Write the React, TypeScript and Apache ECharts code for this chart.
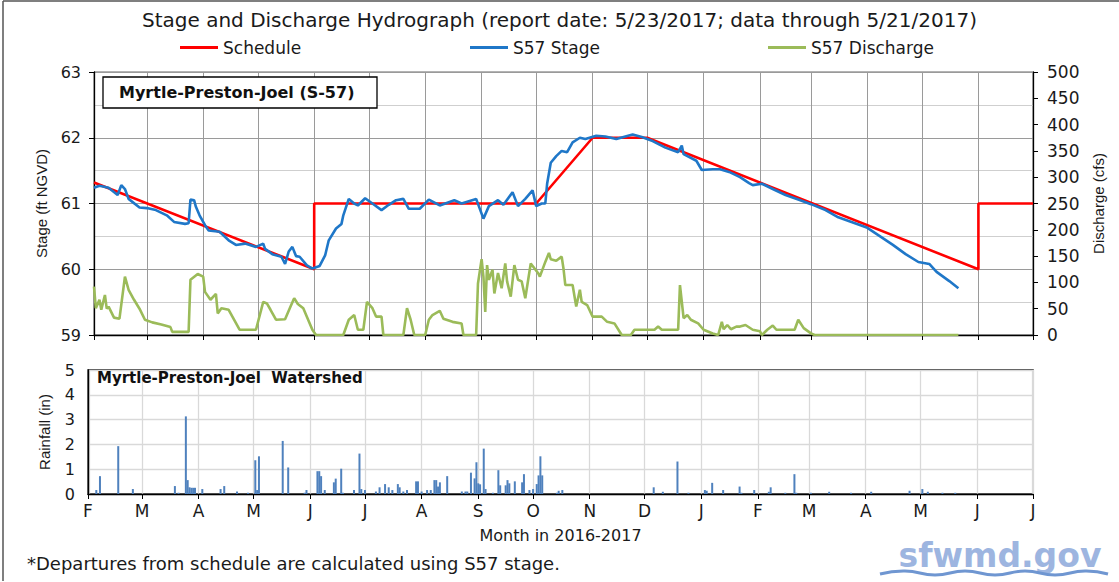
import React, { useEffect, useRef } from 'react';
import * as echarts from 'echarts';

const WIDE = '"DejaVu Sans", "Liberation Sans", sans-serif';
const ARIAL = '"Liberation Sans", Arial, sans-serif';

const chartTitle = 'Stage and Discharge Hydrograph (report date: 5/23/2017; data through 5/21/2017)';
const legendNames = ['Schedule', 'S57 Stage', 'S57 Discharge'];
const monthLetters = ['J', 'F', 'M', 'A', 'M', 'J', 'J', 'A', 'S', 'O', 'N', 'D'];
const axisStart = '2016-02-01';
const axisEnd = '2017-07-01';

const scheduleDates = ['2016-02-01', '2016-06-01', '2016-06-01', '2016-10-01', '2016-11-01', '2016-12-01', '2017-06-01', '2017-06-01', '2017-07-01'];
const scheduleStage = [61.32, 60.0, 61.0, 61.0, 62.0, 62.0, 60.0, 61.0, 61.0];

const stageDates = [
  '2016-02-01', '2016-02-04', '2016-02-09', '2016-02-14', '2016-02-16', '2016-02-18', '2016-02-20', '2016-02-26',
  '2016-03-01', '2016-03-06', '2016-03-12', '2016-03-16', '2016-03-22', '2016-03-24', '2016-03-25', '2016-03-27',
  '2016-03-28', '2016-03-30', '2016-04-02', '2016-04-04', '2016-04-10', '2016-04-15', '2016-04-19', '2016-04-24',
  '2016-04-30', '2016-05-04', '2016-05-05', '2016-05-09', '2016-05-14', '2016-05-16', '2016-05-18', '2016-05-20',
  '2016-05-22', '2016-05-24', '2016-05-28', '2016-05-31', '2016-06-04', '2016-06-07', '2016-06-09', '2016-06-13',
  '2016-06-16', '2016-06-17', '2016-06-20', '2016-06-23', '2016-06-25', '2016-06-29', '2016-07-03', '2016-07-08',
  '2016-07-12', '2016-07-16', '2016-07-20', '2016-07-23', '2016-07-29', '2016-08-03', '2016-08-09', '2016-08-17',
  '2016-08-21', '2016-08-29', '2016-09-02', '2016-09-05', '2016-09-10', '2016-09-13', '2016-09-18', '2016-09-21',
  '2016-09-25', '2016-09-29', '2016-10-01', '2016-10-04', '2016-10-06', '2016-10-07', '2016-10-09', '2016-10-12',
  '2016-10-15', '2016-10-18', '2016-10-21', '2016-10-25', '2016-10-28', '2016-11-03', '2016-11-08', '2016-11-14',
  '2016-11-19', '2016-11-23', '2016-11-28', '2016-12-04', '2016-12-11', '2016-12-18', '2016-12-20', '2016-12-21',
  '2016-12-28', '2016-12-31', '2017-01-06', '2017-01-10', '2017-01-15', '2017-01-21', '2017-01-26', '2017-01-28',
  '2017-02-02', '2017-02-08', '2017-02-15', '2017-02-22', '2017-03-01', '2017-03-09', '2017-03-16', '2017-03-24',
  '2017-04-01', '2017-04-08', '2017-04-15', '2017-04-22', '2017-04-29', '2017-05-05', '2017-05-09', '2017-05-16',
  '2017-05-21'
];
const stageValues = [
  61.24, 61.27, 61.24, 61.13, 61.28, 61.22, 61.07, 60.94,
  60.93, 60.90, 60.82, 60.72, 60.69, 60.70, 61.06, 61.05,
  60.95, 60.82, 60.67, 60.59, 60.57, 60.44, 60.37, 60.39,
  60.34, 60.39, 60.31, 60.23, 60.19, 60.08, 60.27, 60.34,
  60.20, 60.19, 60.06, 60.01, 60.05, 60.21, 60.44, 60.62,
  60.69, 60.82, 61.07, 61.00, 60.97, 61.08, 61.00, 60.90,
  60.98, 61.05, 61.07, 60.92, 60.92, 61.06, 60.97, 61.05,
  61.00, 61.07, 60.77, 60.96, 61.05, 60.98, 61.17, 60.96,
  61.07, 61.20, 60.96, 61.00, 61.00, 61.30, 61.62, 61.72,
  61.80, 61.78, 61.93, 62.00, 61.98, 62.03, 62.02, 61.98,
  62.02, 62.05, 62.01, 61.95, 61.85, 61.78, 61.88, 61.75,
  61.65, 61.51, 61.52, 61.52, 61.48, 61.40, 61.31, 61.28,
  61.30, 61.22, 61.13, 61.06, 60.99, 60.90, 60.79, 60.71,
  60.63, 60.50, 60.37, 60.23, 60.11, 60.08, 59.96, 59.82,
  59.71
];

const dischargeDates = [
  '2016-02-01', '2016-02-02', '2016-02-04', '2016-02-05', '2016-02-07', '2016-02-08', '2016-02-09', '2016-02-12',
  '2016-02-15', '2016-02-18', '2016-02-20', '2016-02-23', '2016-02-26', '2016-02-29', '2016-03-04', '2016-03-09',
  '2016-03-14', '2016-03-15', '2016-03-24', '2016-03-25', '2016-03-29', '2016-04-01', '2016-04-02', '2016-04-05',
  '2016-04-08', '2016-04-09', '2016-04-11', '2016-04-15', '2016-04-21', '2016-04-30', '2016-05-04', '2016-05-06',
  '2016-05-08', '2016-05-11', '2016-05-16', '2016-05-19', '2016-05-21', '2016-05-23', '2016-05-26', '2016-05-31',
  '2016-06-02', '2016-06-17', '2016-06-20', '2016-06-23', '2016-06-25', '2016-06-28', '2016-06-30', '2016-07-03',
  '2016-07-05', '2016-07-08', '2016-07-09', '2016-07-20', '2016-07-22', '2016-07-24', '2016-07-26', '2016-08-01',
  '2016-08-03', '2016-08-05', '2016-08-09', '2016-08-11', '2016-08-16', '2016-08-21', '2016-08-22', '2016-08-29',
  '2016-08-30', '2016-09-01', '2016-09-02', '2016-09-03', '2016-09-04', '2016-09-05', '2016-09-07', '2016-09-08',
  '2016-09-10', '2016-09-12', '2016-09-14', '2016-09-15', '2016-09-17', '2016-09-19', '2016-09-21', '2016-09-23',
  '2016-09-25', '2016-09-28', '2016-10-02', '2016-10-03', '2016-10-06', '2016-10-08', '2016-10-09', '2016-10-12',
  '2016-10-15', '2016-10-16', '2016-10-17', '2016-10-21', '2016-10-23', '2016-10-25', '2016-10-26', '2016-10-29',
  '2016-11-01', '2016-11-06', '2016-11-09', '2016-11-13', '2016-11-17', '2016-11-22', '2016-11-24', '2016-12-05',
  '2016-12-07', '2016-12-09', '2016-12-18', '2016-12-19', '2016-12-21', '2016-12-23', '2016-12-25', '2016-12-29',
  '2017-01-01', '2017-01-06', '2017-01-09', '2017-01-11', '2017-01-12', '2017-01-14', '2017-01-16', '2017-01-19',
  '2017-01-21', '2017-01-24', '2017-01-28', '2017-02-01', '2017-02-02', '2017-02-05', '2017-02-08', '2017-02-10',
  '2017-02-20', '2017-02-22', '2017-02-25', '2017-03-01', '2017-03-03', '2017-05-21'
];
const dischargeValues = [
  92, 51, 67, 48, 76, 50, 54, 33,
  31, 111, 86, 67, 50, 29, 24, 20,
  15, 6, 6, 105, 116, 111, 82, 67,
  78, 41, 51, 48, 10, 10, 63, 60,
  48, 29, 30, 54, 70, 59, 51, 10,
  0, 0, 29, 38, 10, 10, 63, 51,
  35, 35, 0, 0, 51, 29, 0, 0,
  29, 38, 46, 31, 25, 22, 0, 0,
  98, 144, 111, 44, 133, 105, 124, 79,
  118, 89, 136, 102, 73, 133, 105, 102,
  70, 136, 118, 111, 139, 156, 144, 141,
  149, 126, 95, 95, 54, 86, 63, 57,
  35, 35, 25, 22, 0, 0, 10, 10,
  16, 10, 10, 95, 32, 38, 29, 22,
  10, 3, 0, 25, 11, 19, 11, 16,
  16, 19, 10, 7, 0, 10, 18, 10,
  10, 29, 13, 3, 0, 0
];

const rainDates = [
  '2016-02-05', '2016-02-07', '2016-02-17', '2016-02-25', '2016-03-19', '2016-03-21', '2016-03-25', '2016-03-26',
  '2016-03-27', '2016-03-28', '2016-03-29', '2016-03-30', '2016-04-03', '2016-04-13', '2016-04-15', '2016-04-22',
  '2016-04-28', '2016-05-02', '2016-05-03', '2016-05-04', '2016-05-17', '2016-05-20', '2016-05-29', '2016-05-30',
  '2016-06-05', '2016-06-06', '2016-06-07', '2016-06-09', '2016-06-14', '2016-06-15', '2016-06-18', '2016-06-19',
  '2016-06-25', '2016-06-28', '2016-06-29', '2016-07-01', '2016-07-07', '2016-07-09', '2016-07-12', '2016-07-14',
  '2016-07-16', '2016-07-19', '2016-07-20', '2016-07-22', '2016-07-24', '2016-07-29', '2016-07-30', '2016-08-01',
  '2016-08-04', '2016-08-06', '2016-08-08', '2016-08-09', '2016-08-10', '2016-08-11', '2016-08-15', '2016-08-23',
  '2016-08-25', '2016-08-26', '2016-08-28', '2016-08-30', '2016-08-31', '2016-09-01', '2016-09-02', '2016-09-04',
  '2016-09-05', '2016-09-09', '2016-09-12', '2016-09-13', '2016-09-16', '2016-09-17', '2016-09-18', '2016-09-21',
  '2016-09-25', '2016-09-26', '2016-09-29', '2016-10-01', '2016-10-03', '2016-10-04', '2016-10-05', '2016-10-06',
  '2016-10-14', '2016-10-15', '2016-10-17', '2016-12-06', '2016-12-11', '2016-12-19', '2016-12-25', '2017-01-03',
  '2017-01-04', '2017-01-07', '2017-01-13', '2017-01-22', '2017-01-23', '2017-01-30', '2017-02-07', '2017-02-08',
  '2017-02-16', '2017-02-21', '2017-02-22', '2017-03-02', '2017-03-12', '2017-03-24', '2017-04-04', '2017-04-25',
  '2017-05-02', '2017-05-05', '2017-05-13', '2017-05-20'
];
const rainValues = [
  0.16, 0.72, 1.93, 0.2, 0.32, 0.05, 3.13, 0.56,
  0.27, 0.25, 0.25, 0.25, 0.2, 0.2, 0.32, 0.1,
  0.05, 1.36, 0.16, 1.52, 2.14, 1.07, 0.05, 0.16,
  0.92, 0.92, 0.72, 0.16, 0.47, 0.62, 1.02, 0.05,
  0.16, 1.63, 0.2, 0.16, 0.1, 0.27, 0.4, 0.27,
  0.16, 0.4, 0.27, 0.1, 0.16, 0.51, 0.51, 0.1,
  0.16, 0.16, 0.56, 0.56, 0.3, 0.47, 0.72, 0.1,
  0.1, 0.1, 0.86, 0.63, 1.28, 0.43, 0.39, 1.83,
  0.2, 0.05, 0.96, 0.35, 0.35, 0.56, 0.43, 0.51,
  0.47, 0.8, 0.16, 0.2, 0.4, 0.75, 1.52, 0.75,
  0.05, 0.13, 0.16, 0.27, 0.09, 1.31, 0.05, 0.16,
  0.13, 0.45, 0.16, 0.3, 0.05, 0.16, 0.09, 0.27,
  0.05, 0.8, 0.05, 0.05, 0.09, 0.05, 0.09, 0.13,
  0.2, 0.09, 0.05, 0.05
];

const pairs = (xs: string[], ys: number[]) => xs.map((x, i) => [x, ys[i]]);
// tick values sit at month starts; shift by two days so any timezone offset keeps the right month
const monthLabel = (v: number) => monthLetters[new Date(v + 2 * 86400000).getMonth()];

export default function App() {
  const ref = useRef<HTMLDivElement>(null);
  useEffect(() => {
    if (!ref.current) return;
    const chart = echarts.init(ref.current, undefined, { renderer: 'svg' });
    const timeAxisBase = {
      type: 'time',
      min: axisStart,
      max: axisEnd,
      splitNumber: 17,
      minInterval: 28 * 86400000,
      maxInterval: 31 * 86400000,
    };
    const option: any = {
      animation: false,
      backgroundColor: '#ffffff',
      textStyle: { fontFamily: WIDE },
      title: {
        text: chartTitle,
        left: 'center',
        top: 5,
        textStyle: { fontSize: 20, fontWeight: 'normal', color: '#1a1a1a', fontFamily: WIDE },
      },
      legend: legendNames.map((n, i) => ({
        data: [n],
        left: [175, 465, 763][i],
        top: 34,
        icon: 'rect',
        itemWidth: 38,
        itemHeight: 3,
        textStyle: { fontSize: 17, color: '#1a1a1a', fontFamily: WIDE },
      })),
      grid: [
        { left: 94, right: 86, top: 72, bottom: 247, show: true, borderColor: '#666', borderWidth: 1 },
        { left: 88, right: 86, top: 370, bottom: 88, show: true, borderColor: '#000', borderWidth: 1.3 },
      ],
      xAxis: [
        {
          ...timeAxisBase,
          gridIndex: 0,
          axisLine: { show: true, lineStyle: { color: '#000', width: 1.3 } },
          axisTick: { show: true, length: 5, lineStyle: { color: '#000' } },
          axisLabel: { show: false },
          splitLine: { show: true, lineStyle: { color: '#9a9a9a', width: 1 } },
        },
        {
          ...timeAxisBase,
          gridIndex: 1,
          axisLine: { show: true, lineStyle: { color: '#000', width: 1.3 } },
          axisTick: { show: true, length: 5, lineStyle: { color: '#000' } },
          axisLabel: {
            show: true,
            formatter: monthLabel,
            fontSize: 17,
            color: '#1a1a1a',
            fontFamily: WIDE,
            margin: 8,
            showMinLabel: true,
            showMaxLabel: true,
          },
          splitLine: { show: true, lineStyle: { color: '#d9d9d9', width: 1.3 } },
          name: 'Month in 2016-2017',
          nameLocation: 'middle',
          nameGap: 33,
          nameTextStyle: { fontSize: 16, color: '#1a1a1a', fontFamily: WIDE },
        },
      ],
      yAxis: [
        {
          type: 'value',
          gridIndex: 0,
          min: 59,
          max: 63,
          interval: 1,
          axisLine: { show: true, lineStyle: { color: '#000', width: 1.3 } },
          axisTick: { show: true, length: 5, lineStyle: { color: '#000' } },
          axisLabel: { fontSize: 16, color: '#1a1a1a', margin: 13, fontFamily: WIDE },
          splitLine: { show: true, lineStyle: { color: '#9a9a9a', width: 1 } },
          minorTick: { show: false, splitNumber: 2 },
          minorSplitLine: { show: true, lineStyle: { color: '#cfcfcf', width: 1 } },
          name: 'Stage (ft NGVD)',
          nameLocation: 'middle',
          nameRotate: 90,
          nameGap: 45,
          nameTextStyle: { fontSize: 15, color: '#1a1a1a', fontFamily: ARIAL },
        },
        {
          type: 'value',
          gridIndex: 0,
          position: 'right',
          min: 0,
          max: 500,
          interval: 50,
          axisLine: { show: true, lineStyle: { color: '#000', width: 1.3 } },
          axisTick: { show: true, length: 5, lineStyle: { color: '#000' } },
          axisLabel: { fontSize: 17, color: '#1a1a1a', margin: 14, fontFamily: WIDE },
          splitLine: { show: false },
          name: 'Discharge (cfs)',
          nameLocation: 'middle',
          nameRotate: 90,
          nameGap: 58,
          nameTextStyle: { fontSize: 15, color: '#1a1a1a', fontFamily: ARIAL },
        },
        {
          type: 'value',
          gridIndex: 1,
          min: 0,
          max: 5,
          interval: 1,
          axisLine: { show: true, lineStyle: { color: '#000', width: 1.3 } },
          axisTick: { show: false },
          axisLabel: { fontSize: 16, color: '#1a1a1a', margin: 13, fontFamily: WIDE },
          splitLine: { show: true, lineStyle: { color: '#d9d9d9', width: 1.3 } },
          name: 'Rainfall (in)',
          nameLocation: 'middle',
          nameRotate: 90,
          nameGap: 36,
          nameTextStyle: { fontSize: 15, color: '#1a1a1a', fontFamily: ARIAL },
        },
      ],
      series: [
        {
          name: 'S57 Discharge',
          type: 'line',
          xAxisIndex: 0,
          yAxisIndex: 1,
          data: pairs(dischargeDates, dischargeValues),
          showSymbol: false,
          symbol: 'none',
          lineStyle: { color: '#9BBB59', width: 2.6 },
          itemStyle: { color: '#9BBB59' },
          z: 2,
        },
        {
          name: 'Schedule',
          type: 'line',
          xAxisIndex: 0,
          yAxisIndex: 0,
          data: pairs(scheduleDates, scheduleStage),
          showSymbol: false,
          symbol: 'none',
          lineStyle: { color: '#FF0000', width: 2.6 },
          itemStyle: { color: '#FF0000' },
          z: 3,
        },
        {
          name: 'S57 Stage',
          type: 'line',
          xAxisIndex: 0,
          yAxisIndex: 0,
          data: pairs(stageDates, stageValues),
          showSymbol: false,
          symbol: 'none',
          lineStyle: { color: '#1F77C8', width: 2.6 },
          itemStyle: { color: '#1F77C8' },
          z: 4,
        },
        {
          name: 'Rainfall',
          type: 'bar',
          xAxisIndex: 1,
          yAxisIndex: 2,
          data: pairs(rainDates, rainValues),
          barWidth: 2,
          itemStyle: { color: '#4F81BD' },
        },
      ],
      graphic: [
        { type: 'line', shape: { x1: 3, y1: 1, x2: 3, y2: 581 }, style: { stroke: '#555', lineWidth: 1.5 } },
        { type: 'line', shape: { x1: 3, y1: 1, x2: 1119, y2: 1 }, style: { stroke: '#555', lineWidth: 1.5 } },
        {
          type: 'rect',
          shape: { x: 103, y: 77, width: 274, height: 31 },
          style: { fill: '#fff', stroke: '#000', lineWidth: 1.3 },
          z: 100,
        },
        {
          type: 'text',
          x: 119,
          y: 92.5,
          style: { text: 'Myrtle-Preston-Joel (S-57)', font: `bold 16px ${WIDE}`, fill: '#111', verticalAlign: 'middle' },
          z: 101,
        },
        {
          type: 'text',
          x: 97,
          y: 378,
          style: { text: 'Myrtle-Preston-Joel  Watershed', font: `bold 15px ${WIDE}`, fill: '#111', verticalAlign: 'middle' },
          z: 101,
        },
        {
          type: 'text',
          x: 27,
          y: 563,
          style: { text: '*Departures from schedule are calculated using S57 stage.', font: `18px ${WIDE}`, fill: '#1a1a1a', verticalAlign: 'middle' },
        },
        {
          type: 'text',
          x: 1000,
          y: 555,
          style: { text: 'sfwmd.gov', font: `bold 33px ${WIDE}`, fill: '#9DB5E0', align: 'center', verticalAlign: 'middle' },
        },
        {
          type: 'polyline',
          shape: {
            points: [[880, 574], [905, 571], [935, 575], [965, 571], [995, 575], [1025, 571], [1055, 575], [1085, 571], [1108, 574]],
            smooth: 0.5,
          },
          style: { stroke: '#6F96D1', lineWidth: 3, fill: 'none' },
        },
      ],
    };
    chart.setOption(option);
    return () => chart.dispose();
  }, []);
  return (
    <div
      ref={ref}
      style={{ position: 'absolute', left: 0, top: 0, width: 1119, height: 582, background: '#fff' }}
    />
  );
}
